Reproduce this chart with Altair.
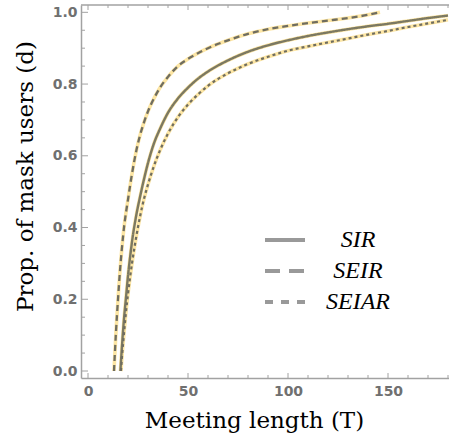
import altair as alt
import pandas as pd

models = ["SIR", "SEIR", "SEIAR"]

sir_T = [16.2, 17, 18, 19, 20, 21, 22, 24, 26, 28, 30, 33, 36, 40, 45, 50, 55, 60, 70, 80, 90, 100, 110, 120, 130, 140, 150, 160, 170, 180]
sir_d = [0.0, 0.07, 0.145, 0.205, 0.265, 0.315, 0.36, 0.43, 0.485, 0.535, 0.58, 0.635, 0.675, 0.72, 0.76, 0.79, 0.815, 0.835, 0.866, 0.89, 0.908, 0.922, 0.934, 0.944, 0.953, 0.961, 0.968, 0.976, 0.984, 0.991]

seir_T = [13, 14, 15, 16, 17, 18, 20, 22, 24, 26, 28, 30, 33, 36, 40, 45, 50, 55, 60, 70, 80, 90, 100, 110, 120, 130, 140, 146]
seir_d = [0.0, 0.11, 0.2, 0.28, 0.345, 0.4, 0.478, 0.55, 0.61, 0.657, 0.693, 0.724, 0.76, 0.79, 0.82, 0.85, 0.87, 0.886, 0.90, 0.922, 0.94, 0.953, 0.962, 0.970, 0.977, 0.984, 0.993, 1.0]

seiar_T = [16.5, 17, 18, 19, 20, 22, 24, 26, 28, 30, 33, 36, 40, 45, 50, 55, 60, 70, 80, 90, 100, 110, 120, 130, 140, 150, 160, 170, 180]
seiar_d = [0.0, 0.04, 0.105, 0.165, 0.215, 0.30, 0.37, 0.43, 0.48, 0.52, 0.572, 0.615, 0.662, 0.708, 0.743, 0.771, 0.795, 0.83, 0.856, 0.876, 0.893, 0.905, 0.916, 0.927, 0.938, 0.948, 0.959, 0.969, 0.979]

x_major = [0, 50, 100, 150]
x_minor = [10, 20, 30, 40, 60, 70, 80, 90, 110, 120, 130, 140, 160, 170, 180]
y_major = [0.0, 0.2, 0.4, 0.6, 0.8, 1.0]
y_minor = [0.05, 0.1, 0.15, 0.25, 0.3, 0.35, 0.45, 0.5, 0.55, 0.65, 0.7, 0.75, 0.85, 0.9, 0.95]

rows = []
for m, Ts, ds in [("SIR", sir_T, sir_d), ("SEIR", seir_T, seir_d), ("SEIAR", seiar_T, seiar_d)]:
    for t, d in zip(Ts, ds):
        rows.append({"model": m, "T": t, "d": d})
df = pd.DataFrame(rows)

W, H = 368, 373
xs = alt.Scale(domain=[-3.5, 180.5], nice=False, zero=False)
ys = alt.Scale(domain=[-0.0195, 1.0204], nice=False, zero=False)
FRAME = "#a2a2a2"
XT = "Meeting length (T)"
YT = "Prop. of mask users (d)"

x_axis = alt.Axis(values=x_major, format="d", titleX=173, titleY=49,
                  titleBaseline="alphabetic", titleAlign="center", labelPadding=6)
y_axis = alt.Axis(values=y_major, format=".1f", titleX=-49, titleY=171,
                  titleBaseline="alphabetic", titleAlign="center", labelPadding=4)

def X(field):
    return alt.X(field, scale=xs, title=XT, axis=x_axis)

def Y(field):
    return alt.Y(field, scale=ys, title=YT, axis=y_axis)

base = alt.Chart(df)

yellow = base.mark_line(strokeWidth=3.6, color="#fde6a4", clip=True, interpolate="monotone").encode(
    x=X("T:Q"), y=Y("d:Q"), detail="model:N",
)

gray = base.mark_line(clip=True, interpolate="monotone").encode(
    x=X("T:Q"), y=Y("d:Q"),
    stroke=alt.Stroke("model:N", scale=alt.Scale(domain=models, range=["#7c7962", "#6f6d60", "#6f6d60"]), legend=None),
    strokeWidth=alt.StrokeWidth("model:N", scale=alt.Scale(domain=models, range=[2.4, 2.2, 2.2]), legend=None),
    strokeDash=alt.StrokeDash("model:N", scale=alt.Scale(domain=models, range=[[1, 0], [6, 4], [3, 3]]), legend=None),
)

legend_layer = base.mark_line(color="#999999", strokeWidth=4).transform_filter("datum.T < -100").encode(
    x=X("T:Q"), y=Y("d:Q"),
    strokeDash=alt.StrokeDash(
        "model:N",
        scale=alt.Scale(domain=models, range=[[40, 0], [15, 9], [8, 8]]),
        legend=alt.Legend(
            title=None, orient="none", legendX=192, legendY=223, padding=0,
            symbolType="M-2,0H2", symbolSize=400, symbolStrokeWidth=4,
            symbolStrokeColor="#999999",
            labelFont="Liberation Serif", labelFontStyle="italic", labelFontSize=24,
            labelColor="black", labelAlign="center", labelOffset=61, rowPadding=7,
        ),
    ),
)

def xtick(vals, length, top=False):
    d = pd.DataFrame({"T": vals})
    if top:
        yv, y2v = alt.value(0), alt.value(length)
    else:
        yv, y2v = alt.value(H), alt.value(H - length)
    return alt.Chart(d).mark_rule(color=FRAME, strokeWidth=1).encode(
        x=X("T:Q"), y=yv, y2=y2v)

def ytick(vals, length):
    d = pd.DataFrame({"d": vals})
    return alt.Chart(d).mark_rule(color=FRAME, strokeWidth=1).encode(
        y=Y("d:Q"), x=alt.value(0), x2=alt.value(length))

top_frame = alt.Chart(pd.DataFrame({"a": [0]})).mark_rule(color=FRAME, strokeWidth=1.5).encode(
    x=alt.value(0), x2=alt.value(W), y=alt.value(0))

chart = alt.layer(
    yellow, gray, legend_layer,
    xtick(x_major, 5), xtick(x_minor, 3), xtick(x_major, 5, True), xtick(x_minor, 3, True),
    ytick(y_major, 7), ytick(y_minor, 4), top_frame,
).resolve_scale(strokeDash="independent").properties(
    width=W, height=H,
    autosize=alt.AutoSizeParams(type="none"),
    padding={"left": 81, "top": 5, "right": 0, "bottom": 60},
).configure_view(stroke=None).configure_axis(
    grid=False, ticks=False, domainColor=FRAME, domainWidth=1.5,
    labelFont="DejaVu Sans", labelFontWeight="bold", labelFontSize=14, labelColor="#707070",
    titleFont="DejaVu Serif", titleFontWeight="normal", titleFontSize=23, titleColor="black",
)

chart.save("out.html", embed_options={"renderer": "svg", "actions": False})
